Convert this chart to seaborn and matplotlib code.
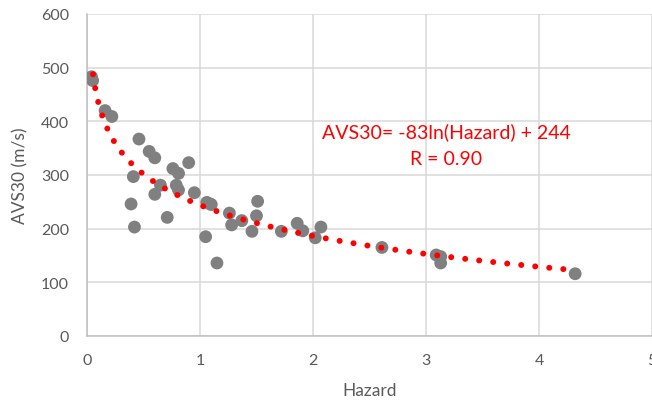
import numpy as np
import pandas as pd
import matplotlib
matplotlib.use("Agg")
import matplotlib.pyplot as plt
import seaborn as sns

hazard = [0.04, 0.05, 0.16, 0.22, 0.39, 0.41, 0.42, 0.46, 0.55, 0.60, 0.60,
          0.65, 0.71, 0.76, 0.79, 0.81, 0.81, 0.90, 0.95, 1.05, 1.06, 1.09,
          1.10, 1.15, 1.26, 1.28, 1.37, 1.46, 1.50, 1.51, 1.72, 1.86, 1.91,
          2.02, 2.07, 2.61, 3.09, 3.13, 3.13, 4.32]
avs30 = [483, 476, 420, 409, 246, 297, 203, 367, 344, 332, 264,
         281, 221, 312, 281, 303, 272, 323, 267, 185, 249, 246,
         245, 136, 229, 207, 215, 195, 224, 251, 195, 210, 196,
         183, 203, 165, 151, 148, 136, 116]

fit_a = -83
fit_b = 244
fit_x_range = [0.053, 4.32]
eq_lines = ["AVS30= -83ln(Hazard) + 244", "R = 0.90"]
x_ticks = [0, 1, 2, 3, 4, 5]
y_ticks = [0, 100, 200, 300, 400, 500, 600]

df = pd.DataFrame({"Hazard": hazard, "AVS30": avs30})
xt = np.linspace(fit_x_range[0], fit_x_range[1], 400)
trend = pd.DataFrame({"Hazard": xt, "AVS30": fit_a * np.log(xt) + fit_b})

sns.set_theme(style="white")
plt.rcParams["font.family"] = ["Lato", "DejaVu Sans"]

fig = plt.figure(figsize=(6.52, 4.06), dpi=100)
ax = fig.add_axes([87 / 652, 1 - 337 / 406, (652 - 87) / 652, (337 - 15) / 406])

sns.scatterplot(data=df, x="Hazard", y="AVS30", ax=ax, color="#808080",
                s=85, edgecolor="none", zorder=3)
sns.lineplot(data=trend, x="Hazard", y="AVS30", ax=ax, color="#ff0000",
             linewidth=4.3, linestyle=(0, (0.01, 2.35)),
             dash_capstyle="round", sort=False, estimator=None, zorder=4)

ax.set_xlim(0, 5)
ax.set_ylim(0, 600)
ax.set_xticks(x_ticks)
ax.set_yticks(y_ticks)
ax.grid(True, color="#d9d9d9", linewidth=1.1)
ax.set_axisbelow(True)
for s in ["top", "right"]:
    ax.spines[s].set_visible(False)
for s in ["left", "bottom"]:
    ax.spines[s].set_color("#bfbfbf")
    ax.spines[s].set_linewidth(1.1)
ax.tick_params(axis="both", length=0, labelsize=11.5, labelcolor="#595959")
ax.tick_params(axis="y", pad=13)
ax.tick_params(axis="x", pad=12)
ax.set_xlabel("Hazard", fontsize=12.5, color="#595959", labelpad=11)
ax.set_ylabel("AVS30 (m/s)", fontsize=12.5, color="#595959", labelpad=9)

ax.text(3.18, 381, eq_lines[0], color="#ff0000", fontsize=14,
        ha="center", va="center")
ax.text(3.18, 331, eq_lines[1], color="#ff0000", fontsize=14,
        ha="center", va="center")

fig.savefig("out.png", dpi=100)
